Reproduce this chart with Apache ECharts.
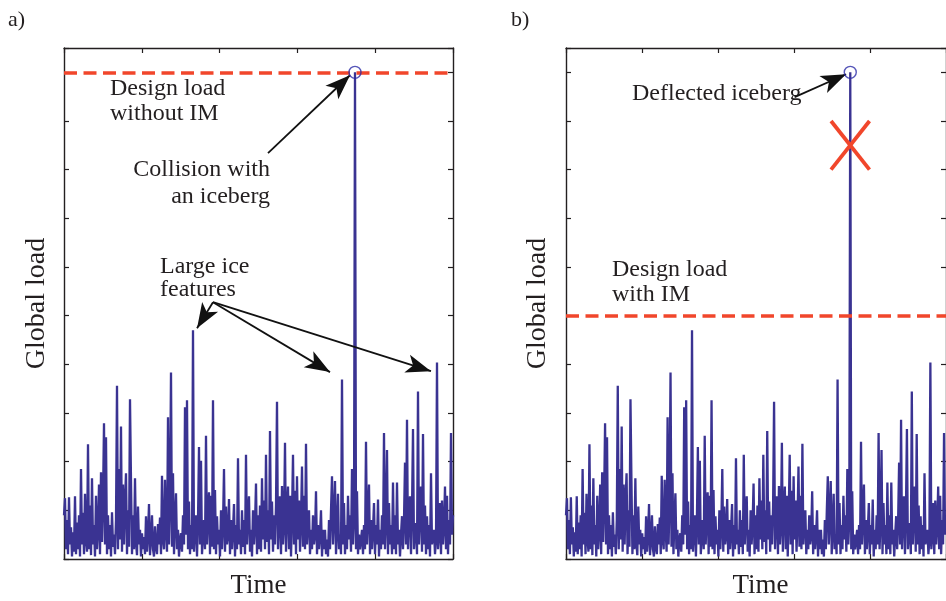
<!DOCTYPE html>
<html>
<head>
<meta charset="utf-8">
<script src="https://cdn.jsdelivr.net/npm/echarts@6/dist/echarts.min.js"></script>
<style>
  html, body { margin: 0; padding: 0; background: #fff; }
  #chart { width: 946px; height: 601px; }
</style>
</head>
<body>
<div id="chart"></div>
<script>
// Global ice load record, one sample per time step (same record in both panels)
const load = [
  0.9, 1.25, 0.2, 0.8, 0.1, 1.27, 0.3, 0.65, 0.05, 0.55,
  0.15, 1.29, 0.1, 0.75, 0.2, 0.9, 0.05, 1.85, 0.3, 0.95,
  0.1, 1.34, 0.4, 0.15, 2.36, 0.2, 1.1, 0.08, 1.66, 0.3,
  0.7, 0.05, 1.3, 0.2, 0.6, 1.53, 0.1, 1.78, 0.35, 1.2,
  2.79, 0.3, 2.5, 0.1, 0.9, 0.2, 0.7, 0.05, 0.96, 0.25,
  0.5, 0.1, 0.8, 3.56, 0.2, 1.85, 0.4, 2.72, 0.15, 1.53,
  0.3, 1.2, 1.76, 0.1, 1.0, 0.25, 3.28, 1.6, 0.1, 0.9,
  0.2, 1.66, 0.35, 0.08, 1.08, 0.3, 0.6, 0.05, 0.53, 0.2,
  0.45, 0.1, 0.88, 0.15, 0.5, 1.13, 0.08, 0.4, 0.9, 0.2,
  0.05, 0.67, 0.25, 0.1, 0.72, 0.3, 0.85, 0.1, 1.71, 0.4,
  0.2, 1.63, 0.6, 0.15, 2.91, 0.3, 1.2, 3.83, 0.25, 1.76,
  0.1, 0.8, 1.35, 0.2, 0.6, 0.05, 0.4, 0.53, 0.15, 0.9,
  0.3, 3.12, 0.5, 3.26, 0.2, 1.18, 0.1, 0.7, 0.2, 4.7,
  0.15, 0.6, 0.9, 0.05, 0.8, 2.3, 0.3, 2.02, 0.1, 0.5,
  0.8, 0.2, 2.53, 0.3, 0.9, 1.37, 0.1, 1.3, 0.25, 3.26,
  0.2, 1.42, 0.1, 0.88, 0.3, 0.6, 0.05, 1.0, 0.2, 0.7,
  1.85, 0.15, 1.08, 0.3, 0.5, 1.23, 0.1, 0.8, 0.2, 0.6,
  1.13, 0.05, 0.7, 0.2, 2.07, 0.3, 0.6, 0.1, 1.0, 0.25,
  0.8, 0.1, 2.14, 0.3, 0.9, 1.29, 0.15, 0.6, 0.05, 1.0,
  0.3, 0.7, 1.55, 0.1, 0.9, 0.2, 1.1, 0.15, 1.66, 0.4,
  1.2, 0.2, 2.14, 0.35, 1.0, 0.1, 2.63, 0.4, 1.18, 0.15,
  0.9, 0.3, 1.1, 3.23, 0.2, 0.8, 1.29, 0.1, 1.5, 0.3,
  0.7, 2.39, 0.15, 1.0, 1.49, 0.2, 1.3, 0.05, 0.9, 2.14,
  0.3, 1.4, 0.1, 1.7, 0.4, 1.2, 0.15, 0.8, 1.9, 0.25,
  1.3, 0.2, 2.37, 0.3, 0.8, 1.0, 0.1, 0.6, 0.2, 0.9,
  0.3, 0.5, 1.39, 0.1, 0.7, 0.2, 0.5, 1.0, 0.05, 0.6,
  0.2, 0.6, 0.1, 0.4, 0.05, 0.8, 0.2, 1.0, 1.7, 0.3,
  0.9, 1.6, 0.1, 0.6, 1.34, 0.2, 0.5, 0.1, 3.69, 0.3,
  1.15, 0.1, 0.7, 0.2, 1.3, 0.4, 0.9, 0.15, 1.85, 0.3,
  0.8, 10, 0.2, 1.39, 0.1, 0.5, 0.2, 0.4, 0.6, 0.1,
  0.7, 0.2, 2.41, 0.3, 0.9, 1.53, 0.1, 0.8, 0.2, 0.6,
  1.15, 0.1, 0.7, 0.3, 1.22, 0.05, 0.6, 0.2, 0.9, 0.3,
  2.59, 0.2, 0.8, 2.24, 0.1, 1.15, 0.3, 0.7, 0.1, 1.57,
  0.2, 0.9, 0.1, 1.57, 0.3, 0.6, 0.05, 0.5, 0.88, 0.2,
  0.8, 1.98, 0.3, 2.86, 0.2, 0.9, 1.29, 0.1, 1.0, 2.67,
  0.2, 0.6, 0.74, 0.1, 3.44, 0.3, 1.0, 1.49, 0.15, 2.57,
  0.3, 1.1, 0.1, 0.88, 0.2, 0.7, 0.05, 1.76, 0.3, 0.5,
  0.6, 0.1, 0.4, 4.04, 0.2, 0.5, 1.15, 0.1, 1.2, 0.3,
  0.7, 1.49, 0.2, 1.3, 0.1, 0.8, 0.3, 2.59, 0.5, 0.9
];

// Time span of the record and the axis ranges
const timeSpan = 5;
const loadMax = 10.5;

// Design load levels
const designLoadWithoutIM = 10;
const designLoadWithIM = 5;

// Annotation anchors in (time, load) units
const collisionArrow = [[2.622, 8.34], [3.676, 9.94]];
const iceFeatureOrigin = [1.915, 5.277];
const iceFeatureTips = [[1.710, 4.743], [3.419, 3.84], [4.717, 3.86]];
const deflectedArrow = [[3.008, 9.49], [3.685, 9.96]];
const crossLow = 8, crossHigh = 9, crossHalfSpan = 0.253;

const time = load.map((_, i) => i * timeSpan / (load.length - 1));
const series = load.map((v, i) => [time[i], v]);
const peakIdx = load.indexOf(Math.max(...load));
const peak = [time[peakIdx], load[peakIdx]];

const NAVY = '#3a3392';
const RED = '#f1462b';
const INK = '#231f20';
const SERIF = '"Liberation Serif", "DejaVu Serif", serif';

const chart = echarts.init(document.getElementById('chart'), null, { renderer: 'canvas' });

const grids = [
  { left: 64, top: 48, width: 389, height: 511 },
  { left: 566, top: 48, width: 389, height: 511 }
];

function frameAxis(kind, gridIndex, position) {
  return {
    type: 'value',
    gridIndex,
    position,
    min: 0,
    max: kind === 'x' ? timeSpan : loadMax,
    interval: 1,
    axisLine: { show: true, onZero: false, lineStyle: { color: INK, width: 1.4 } },
    axisTick: { show: true, inside: true, length: 5, lineStyle: { color: INK, width: 1.2 } },
    axisLabel: { show: false },
    splitLine: { show: false }
  };
}

const xAxes = [], yAxes = [];
grids.forEach((g, gi) => {
  xAxes.push(frameAxis('x', gi, 'bottom'), frameAxis('x', gi, 'top'));
  yAxes.push(frameAxis('y', gi, 'left'), frameAxis('y', gi, 'right'));
});

function arrowLine(from, to) {
  return [{ coord: from }, { coord: to }];
}

const arrowStyle = {
  silent: true,
  symbol: ['none', 'arrow'],
  symbolSize: [14, 25],
  label: { show: false },
  lineStyle: { color: '#111', width: 1.8, type: 'solid' },
  emphasis: { disabled: true }
};

function panelSeries(pi, designLevel, arrows) {
  const ax = { xAxisIndex: pi * 2, yAxisIndex: pi * 2 };
  return [
    Object.assign({
      type: 'line',
      data: series,
      showSymbol: false,
      symbol: 'none',
      lineStyle: { color: NAVY, width: 2.3, join: 'miter', miterLimit: 2 },
      animation: false,
      silent: true,
      z: 2,
      markLine: {
        silent: true,
        symbol: 'none',
        label: { show: false },
        lineStyle: { color: RED, width: 3.5, type: [13, 6.5] },
        data: [{ yAxis: designLevel }],
        animation: false,
        z: 3
      }
    }, ax),
    Object.assign({
      type: 'scatter',
      data: [peak],
      symbol: 'circle',
      symbolSize: 12,
      itemStyle: { color: 'rgba(0,0,0,0)', borderColor: '#2b2ba6', borderWidth: 1.4 },
      silent: true,
      animation: false,
      z: 5
    }, ax),
    Object.assign({
      type: 'line',
      data: [],
      silent: true,
      animation: false,
      z: 6,
      markLine: Object.assign({ data: arrows, animation: false }, arrowStyle)
    }, ax)
  ];
}

const seriesList = []
  .concat(panelSeries(0, designLoadWithoutIM, [
    arrowLine(collisionArrow[0], collisionArrow[1]),
    ...iceFeatureTips.map(tip => arrowLine(iceFeatureOrigin, tip))
  ]))
  .concat(panelSeries(1, designLoadWithIM, [
    arrowLine(deflectedArrow[0], deflectedArrow[1])
  ]));

// Red cross over the deflected iceberg peak
[[crossLow, crossHigh], [crossHigh, crossLow]].forEach(([a, b]) => {
  seriesList.push({
    type: 'line',
    xAxisIndex: 2, yAxisIndex: 2,
    data: [[peak[0] - crossHalfSpan, a], [peak[0] + crossHalfSpan, b]],
    symbol: 'none',
    lineStyle: { color: RED, width: 3.8, cap: 'butt' },
    silent: true,
    animation: false,
    z: 4
  });
});

function txt(x, y, text, size, opts) {
  return Object.assign({
    type: 'text',
    x, y,
    silent: true,
    style: Object.assign({
      text,
      font: size + 'px ' + SERIF,
      fill: INK,
      align: 'left',
      verticalAlign: 'middle'
    }, (opts && opts.style) || {})
  }, opts && opts.rotation !== undefined ? { rotation: opts.rotation } : {});
}

const graphics = [
  txt(8, 20, 'a)', 22),
  txt(511, 20, 'b)', 22),
  // panel a annotations
  txt(110, 89, 'Design load', 24),
  txt(110, 114, 'without IM', 24),
  txt(270, 170, 'Collision with', 24, { style: { align: 'right' } }),
  txt(270, 197, 'an iceberg', 24, { style: { align: 'right' } }),
  txt(160, 267, 'Large ice', 24),
  txt(160, 290, 'features', 24),
  // panel b annotations
  txt(632, 94, 'Deflected iceberg', 24),
  txt(612, 270, 'Design load', 24),
  txt(612, 295, 'with IM', 24),
  // axis titles
  txt(258.5, 586, 'Time', 27, { style: { align: 'center' } }),
  txt(760.5, 586, 'Time', 27, { style: { align: 'center' } }),
  txt(37, 303.5, 'Global load', 28, { rotation: Math.PI / 2, style: { align: 'center' } }),
  txt(538, 303.5, 'Global load', 28, { rotation: Math.PI / 2, style: { align: 'center' } })
];

chart.setOption({
  animation: false,
  backgroundColor: '#fff',
  grid: grids,
  xAxis: xAxes,
  yAxis: yAxes,
  series: seriesList,
  graphic: graphics
});
</script>
</body>
</html>
